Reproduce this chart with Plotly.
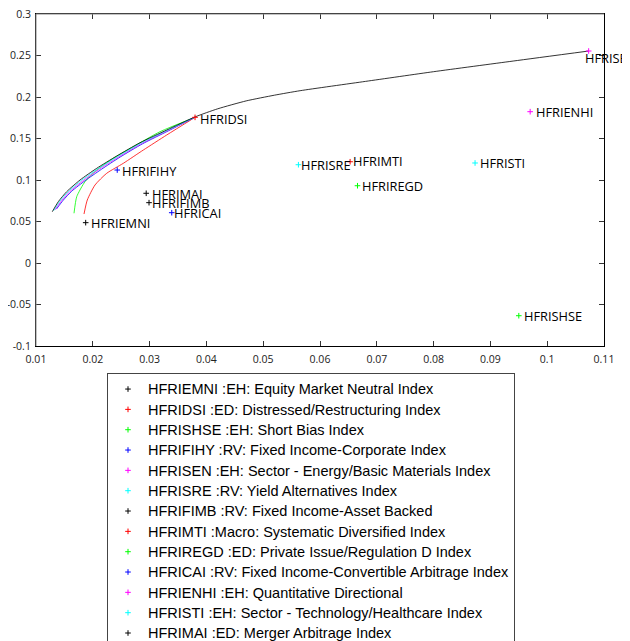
import plotly.graph_objects as go

# ---------------- data ----------------
tickers = ["HFRIEMNI", "HFRIDSI", "HFRISHSE", "HFRIFIHY", "HFRISEN", "HFRISRE",
           "HFRIFIMB", "HFRIMTI", "HFRIREGD", "HFRICAI", "HFRIENHI", "HFRISTI", "HFRIMAI"]
descriptions = ["EH: Equity Market Neutral Index",
                "ED: Distressed/Restructuring Index",
                "EH: Short Bias Index",
                "RV: Fixed Income-Corporate Index",
                "EH: Sector - Energy/Basic Materials Index",
                "RV: Yield Alternatives Index",
                "RV: Fixed Income-Asset Backed",
                "Macro: Systematic Diversified Index",
                "ED: Private Issue/Regulation D Index",
                "RV: Fixed Income-Convertible Arbitrage Index",
                "EH: Quantitative Directional",
                "EH: Sector - Technology/Healthcare Index",
                "ED: Merger Arbitrage Index"]
risk = [0.01875, 0.0380, 0.0950, 0.0243, 0.1073, 0.0562, 0.0299,
        0.0653, 0.0666, 0.0339, 0.0970, 0.0873, 0.0294]
ret = [0.0486, 0.1755, -0.0635, 0.1120, 0.2554, 0.1184, 0.0727,
       0.1220, 0.0931, 0.0606, 0.1823, 0.1205, 0.0840]

# efficient frontiers
frontier_red_x = [0.01845, 0.01903, 0.02039, 0.02245, 0.02537, 0.02889, 0.03301, 0.0380]
frontier_red_y = [0.0590, 0.0759, 0.0940, 0.1081, 0.1201, 0.1361, 0.1542, 0.1755]
frontier_green_x = [0.01669, 0.01717, 0.01863, 0.02069, 0.02361, 0.02713, 0.03183, 0.0380]
frontier_green_y = [0.0599, 0.0799, 0.0980, 0.1120, 0.1261, 0.1401, 0.1582, 0.1755]
frontier_blue_x = [0.01360, 0.01480, 0.01630, 0.01865, 0.02150, 0.02480, 0.02875, 0.03330, 0.0380]
frontier_blue_y = [0.0650, 0.0757, 0.0866, 0.0992, 0.1128, 0.1276, 0.1436, 0.1592, 0.1756]
frontier_magenta_x = [0.01335, 0.01450, 0.01600, 0.01835, 0.02120, 0.02460, 0.02860, 0.03320, 0.0380]
frontier_magenta_y = [0.0640, 0.0750, 0.0864, 0.0995, 0.1133, 0.1280, 0.1440, 0.1595, 0.1757]
frontier_cyan_x = [0.01310, 0.01420, 0.01570, 0.01805, 0.02095, 0.02440, 0.02845, 0.03310, 0.0380]
frontier_cyan_y = [0.0630, 0.0745, 0.0862, 0.0998, 0.1137, 0.1284, 0.1444, 0.1598, 0.1758]
frontier_black_x = [0.01287, 0.01393, 0.01540, 0.01775, 0.02069, 0.02421, 0.02831, 0.03301,
                    0.0380, 0.0420, 0.0470, 0.0520, 0.0565, 0.0680, 0.0800, 0.0940, 0.1073]
frontier_black_y = [0.0618, 0.0739, 0.0859, 0.1000, 0.1141, 0.1289, 0.1449, 0.1602,
                    0.1760, 0.1858, 0.1953, 0.2022, 0.2076, 0.2188, 0.2305, 0.2433, 0.2554]

x_tickvals = [0.01, 0.02, 0.03, 0.04, 0.05, 0.06, 0.07, 0.08, 0.09, 0.10, 0.11]
x_ticktext = ["0.01", "0.02", "0.03", "0.04", "0.05", "0.06", "0.07", "0.08", "0.09", "0.1", "0.11"]
y_tickvals = [-0.1, -0.05, 0, 0.05, 0.1, 0.15, 0.2, 0.25, 0.3]
y_ticktext = ["-0.1", "-0.05", "0", "0.05", "0.1", "0.15", "0.2", "0.25", "0.3"]

# ---------------- style ----------------
palette = ["#000000", "#ff0000", "#00ff00", "#0000ff", "#ff00ff", "#00ffff"]
# label offsets in px (dx to text start, dy downward)
label_offsets = {"HFRIDSI": (5, 1.5), "HFRIFIHY": (5, 0.7), "HFRISEN": (-4, 6.7),
                 "HFRISRE": (3.0, 0.3), "HFRIFIMB": (3, 0.8), "HFRIMTI": (3.3, -1),
                 "HFRICAI": (2, 0.6), "HFRIENHI": (6, 0), "HFRISTI": (4.7, 0),
                 "HFRIMAI": (6, 0.4)}
label_font = dict(family="Open Sans, Liberation Sans, Arial", size=12.8, color="#000")
tick_font = dict(family="Open Sans, Liberation Sans, Arial", size=10.5, color="#222")

fig = go.Figure()

curves = [(frontier_red_x, frontier_red_y, "#ff0000"),
          (frontier_green_x, frontier_green_y, "#00ff00"),
          (frontier_blue_x, frontier_blue_y, "#0000ff"),
          (frontier_magenta_x, frontier_magenta_y, "#ff00ff"),
          (frontier_cyan_x, frontier_cyan_y, "#00ffff"),
          (frontier_black_x, frontier_black_y, "#000000")]
for cx, cy, col in curves:
    fig.add_trace(go.Scatter(x=cx, y=cy, mode="lines", showlegend=False, hoverinfo="skip",
                             line=dict(color=col, width=0.8, shape="spline", smoothing=0.6)))

for i, (t, d) in enumerate(zip(tickers, descriptions)):
    col = palette[i % len(palette)]
    fig.add_trace(go.Scatter(
        x=[risk[i]], y=[ret[i]], mode="markers",
        name='<span style="font-size:14.5px">' + t + " :" + d + "</span>",
        marker=dict(symbol="cross-thin", size=4, color=col, line=dict(color=col, width=1))))
    dx, dy = label_offsets.get(t, (5, 0))
    fig.add_annotation(x=risk[i], y=ret[i], text=t, showarrow=False,
                       xanchor="left", yanchor="middle", xshift=dx - 2, yshift=-dy,
                       font=label_font)

axis_common = dict(showgrid=False, zeroline=False, showline=True, linecolor="#000", linewidth=1,
                   mirror="allticks", ticks="inside", ticklen=5, tickcolor="#333",
                   tickfont=tick_font, ticklabeloverflow="allow")
fig.update_xaxes(range=[0.01, 0.11], tickvals=x_tickvals, ticktext=x_ticktext,
                 ticklabelstandoff=3, **axis_common)
fig.update_yaxes(range=[-0.1, 0.3], tickvals=y_tickvals, ticktext=y_ticktext,
                 ticklabelstandoff=2, **axis_common)

# lighter top and left frame lines
fig.add_shape(type="line", xref="paper", yref="paper", x0=0, x1=1, y0=1, y1=1,
              line=dict(color="#888", width=1), layer="above")
fig.add_shape(type="line", xref="paper", yref="paper", x0=0, x1=0, y0=0, y1=1,
              line=dict(color="#888", width=1), layer="above")

# page body adds an 8px margin, so the figure is sized/offset to compensate
fig.update_layout(
    width=622, height=633,
    margin=dict(l=28, r=26, t=6, b=295, autoexpand=False),
    paper_bgcolor="white", plot_bgcolor="white",
    showlegend=True,
    legend=dict(x=0.125, y=-0.081, xanchor="left", yanchor="top",
                bgcolor="white", bordercolor="#444", borderwidth=1,
                font=dict(family="Liberation Sans, Arial", size=13.33, color="#000"),
                tracegroupgap=0),
)

fig.write_html("out.html")
